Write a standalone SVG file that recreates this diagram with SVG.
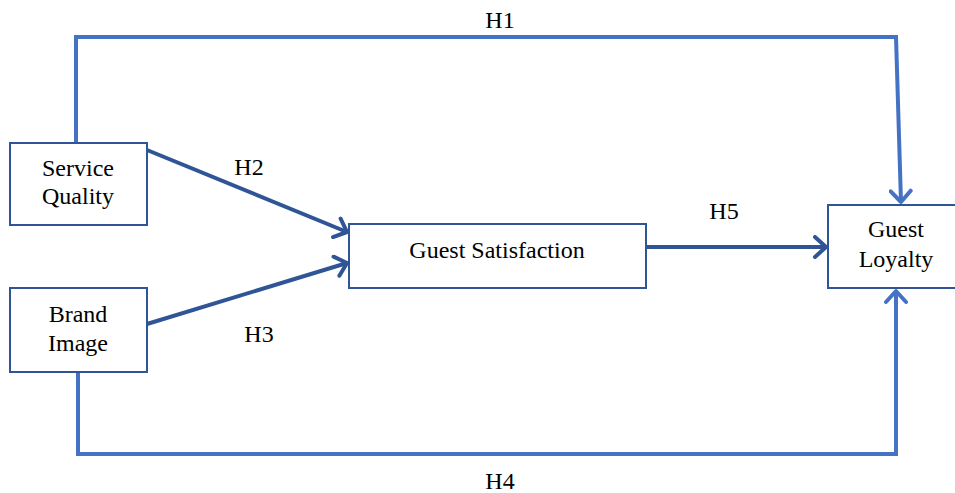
<svg xmlns="http://www.w3.org/2000/svg" width="955" height="493" viewBox="0 0 955 493">
  <style>
    .box { fill: #ffffff; stroke: #2F5597; stroke-width: 2; }
    text { font-family: 'Liberation Serif', 'Times New Roman', serif; fill: #000000; text-anchor: middle; font-size: 24px; }
    .dark { fill: none; stroke: #2F5597; stroke-width: 4; }
    .light { fill: none; stroke: #4472C4; stroke-width: 4; }
  </style>
  <defs>
    <marker id="headDark" markerUnits="userSpaceOnUse" markerWidth="20" markerHeight="24" refX="15" refY="12" orient="auto" viewBox="0 0 20 24">
      <path d="M4,2 L15,12 L4,22" fill="none" stroke="#2F5597" stroke-width="4" stroke-linecap="round" stroke-linejoin="round"/>
    </marker>
    <marker id="headLight" markerUnits="userSpaceOnUse" markerWidth="20" markerHeight="24" refX="15" refY="12" orient="auto" viewBox="0 0 20 24">
      <path d="M4,2 L15,12 L4,22" fill="none" stroke="#4472C4" stroke-width="4" stroke-linecap="round" stroke-linejoin="round"/>
    </marker>
  </defs>

  <!-- connectors and their hypothesis labels -->
  <g id="connectors">
    <polyline class="light" points="76,143 76,37 896,37 901,202" marker-end="url(#headLight)"/>
    <polyline class="light" points="78,372 78,454 896,454 896,291" marker-end="url(#headLight)"/>
    <line class="dark" x1="147" y1="150" x2="347" y2="232" marker-end="url(#headDark)"/>
    <line class="dark" x1="147" y1="324" x2="347" y2="263" marker-end="url(#headDark)"/>
    <line class="dark" x1="646" y1="247" x2="826" y2="247" marker-end="url(#headDark)"/>
    <text x="500" y="28">H1</text>
    <text x="249" y="175">H2</text>
    <text x="259" y="342">H3</text>
    <text x="500" y="489">H4</text>
    <text x="724" y="219">H5</text>
  </g>

  <g id="service-quality">
    <rect class="box" x="10" y="143" width="137" height="82"/>
    <text x="78" y="176">Service</text>
    <text x="78" y="204">Quality</text>
  </g>

  <g id="brand-image">
    <rect class="box" x="10" y="288" width="137" height="84"/>
    <text x="78" y="322">Brand</text>
    <text x="78" y="351">Image</text>
  </g>

  <g id="guest-satisfaction">
    <rect class="box" x="349" y="224" width="297" height="64"/>
    <text x="497" y="258">Guest Satisfaction</text>
  </g>

  <g id="guest-loyalty">
    <rect class="box" x="828" y="205" width="140" height="83"/>
    <text x="896" y="237">Guest</text>
    <text x="896" y="267">Loyalty</text>
  </g>
</svg>
